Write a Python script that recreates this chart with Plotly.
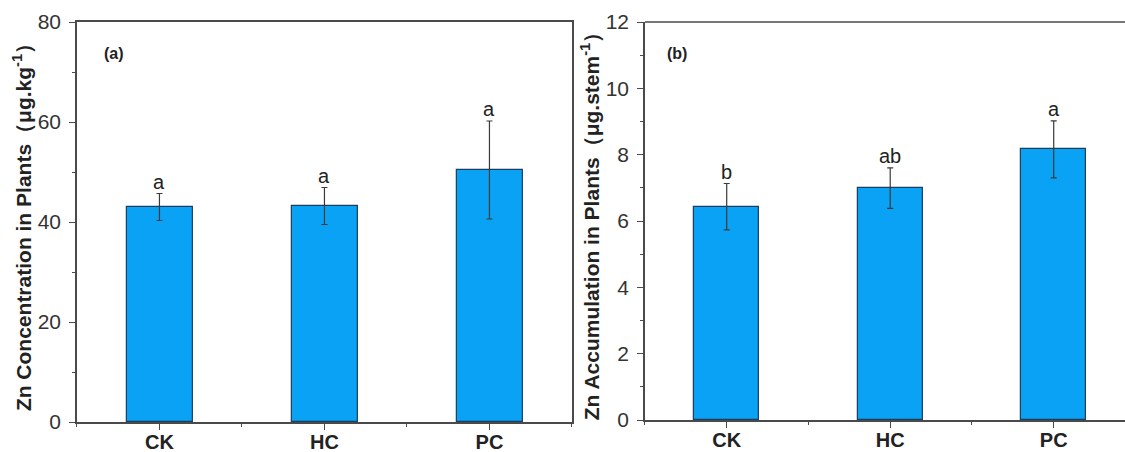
import plotly.graph_objects as go

categories = ["CK", "HC", "PC"]
conc_values = [43.0, 43.2, 50.4]
conc_errors = [2.7, 3.7, 9.8]
conc_letters = ["a", "a", "a"]
accum_values = [6.43, 6.99, 8.16]
accum_errors = [0.70, 0.61, 0.86]
accum_letters = ["b", "ab", "a"]
conc_ticks = [0, 20, 40, 60, 80]
accum_ticks = [0, 2, 4, 6, 8, 10, 12]

xpos = list(range(len(categories)))
BAR = "#0aa2f5"
EDGE = "#1d3d5c"
AX = "#4a4a4a"
FONT = "Liberation Sans, Arial, sans-serif"

fig = go.Figure()
fig.add_trace(go.Bar(x=xpos, y=conc_values, width=0.4, marker=dict(color=BAR, line=dict(color=EDGE, width=1.2)),
                     error_y=dict(type="data", array=conc_errors, color="#3a3a3a", thickness=1.2, width=3),
                     xaxis="x", yaxis="y", showlegend=False))
fig.add_trace(go.Bar(x=xpos, y=accum_values, width=0.4, marker=dict(color=BAR, line=dict(color=EDGE, width=1.2)),
                     error_y=dict(type="data", array=accum_errors, color="#3a3a3a", thickness=1.2, width=3),
                     xaxis="x2", yaxis="y2", showlegend=False))

annotations = []
for i, (v, e, t) in enumerate(zip(conc_values, conc_errors, conc_letters)):
    annotations.append(dict(x=i, y=v + e, xref="x", yref="y", text=t, showarrow=False, yanchor="bottom",
                            yshift=-1, font=dict(size=20, color="#222", family=FONT)))
for i, (v, e, t) in enumerate(zip(accum_values, accum_errors, accum_letters)):
    annotations.append(dict(x=i, y=v + e, xref="x2", yref="y2", text=t, showarrow=False, yanchor="bottom",
                            yshift=-1, font=dict(size=20, color="#222", family=FONT)))
annotations.append(dict(x=0.0907, y=0.9225, xref="paper", yref="paper", text="<b>(a)</b>", showarrow=False,
                        xanchor="left", yanchor="middle", font=dict(size=16, color="#222", family=FONT)))
annotations.append(dict(x=0.591, y=0.9225, xref="paper", yref="paper", text="<b>(b)</b>", showarrow=False,
                        xanchor="left", yanchor="middle", font=dict(size=16, color="#222", family=FONT)))

common_x = dict(tickmode="array", tickvals=xpos, ticktext=["<b>%s</b>" % c for c in categories],
                showline=True, linecolor=AX, linewidth=1.5, ticks="outside", ticklen=6, tickcolor=AX,
                tickfont=dict(size=20, color="#222", family=FONT), showgrid=False, zeroline=False,
                ticklabelstandoff=-5, automargin=False,
                minor=dict(tickmode="linear", tick0=0.5, dtick=1, ticks="outside", ticklen=3, tickcolor=AX))
common_y = dict(showline=True, linecolor=AX, linewidth=1.5, ticks="outside", ticklen=6, tickcolor=AX,
                tickfont=dict(size=21, color="#333", family=FONT), showgrid=False, zeroline=False,
                ticklabelstandoff=4, automargin=False,
                title_font=dict(size=21, color="#222", family=FONT), title_standoff=0)

fig.update_layout(
    width=1125, height=452,
    margin=dict(l=0, r=0, t=22, b=30, autoexpand=False),
    plot_bgcolor="white", paper_bgcolor="white",
    bargap=0,
    xaxis=dict(domain=[0.0684, 0.5084], range=[-0.5, 2.5], anchor="y", mirror=True, **common_x),
    yaxis=dict(domain=[0, 1], range=[0, 80], tickvals=conc_ticks, anchor="x", mirror=True,
               title_text="<b>Zn Concentration in Plants（μg.kg<sup>-1</sup>）</b>",
               minor=dict(ticks="outside", ticklen=3, tickcolor=AX, dtick=10, tick0=0), **common_y),
    xaxis2=dict(domain=[0.5733, 1.0], range=[-0.5, 2.436], anchor="y2", mirror=False, **common_x),
    yaxis2=dict(domain=[0.005, 1], range=[0, 12], tickvals=accum_ticks, anchor="x2", mirror=False,
                title_text="<b>Zn Accumulation in Plants（μg.stem<sup>-1</sup>）</b>",
                minor=dict(ticks="outside", ticklen=3, tickcolor=AX, dtick=1, tick0=0), **common_y),
    annotations=annotations,
    shapes=[dict(type="line", xref="paper", yref="paper", x0=0.5733, x1=1.0, y0=1, y1=1,
                 line=dict(color=AX, width=1.5))],
)

fig.write_html("out.html", config={"displayModeBar": False},
               post_script="document.body.style.margin='0px';document.body.style.overflow='hidden';")
